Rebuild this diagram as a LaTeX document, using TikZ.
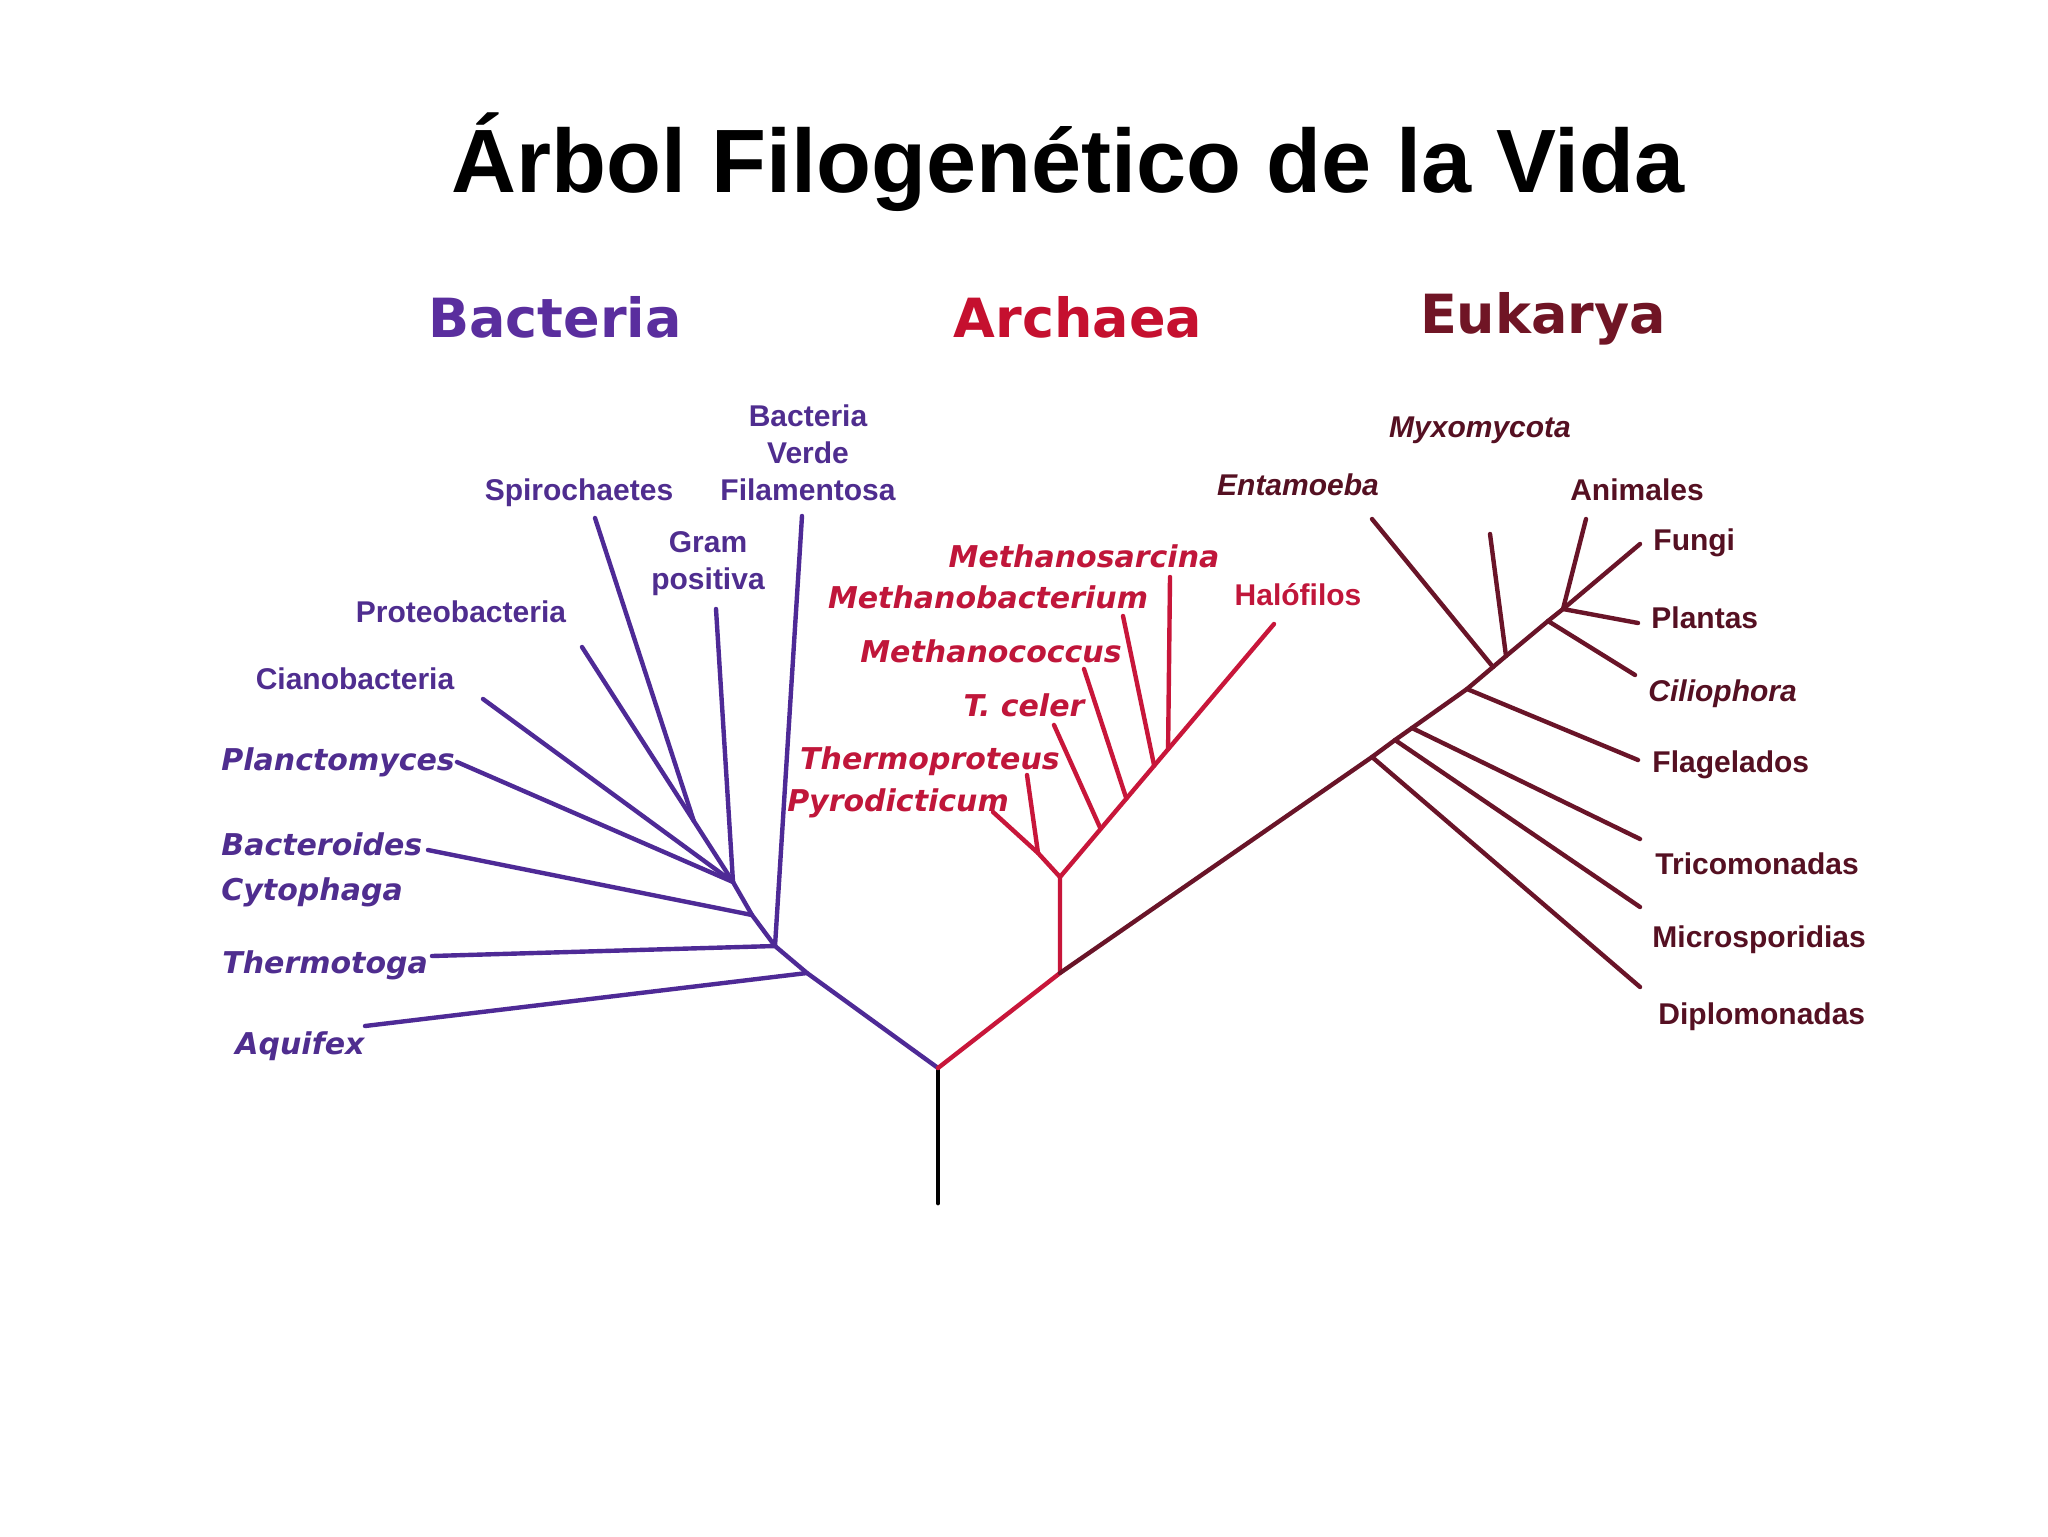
\documentclass[tikz,border=0pt]{standalone}
\usepackage{fontspec}
\newfontfamily\lsans{Liberation Sans}
\newfontfamily\dvsans{DejaVu Sans}[BoldFont={DejaVu Sans Bold},ItalicFont={DejaVu Sans Oblique},BoldItalicFont={DejaVu Sans Bold Oblique}]
\usetikzlibrary{calc}
\definecolor{bactline}{HTML}{4E2A96}
\definecolor{bacttext}{HTML}{4F2D8F}
\definecolor{bacthead}{HTML}{5A2E9E}
\definecolor{archline}{HTML}{C8163A}
\definecolor{archtext}{HTML}{C0163A}
\definecolor{archhead}{HTML}{C5102F}
\definecolor{eukline}{HTML}{691428}
\definecolor{euktext}{HTML}{551022}
\definecolor{eukhead}{HTML}{701525}
\tikzset{
  lineb/.style={draw=bactline, line width=2.2pt, line cap=round, line join=round},
  linea/.style={draw=archline, line width=2.2pt, line cap=round, line join=round},
  linee/.style={draw=eukline, line width=2.2pt, line cap=round, line join=round},
  liner/.style={draw=black, line width=2.4pt, line cap=round, line join=round},
  labr/.style={inner sep=0pt, yshift=-2.8pt, font=\lsans\bfseries\fontsize{15pt}{18.5pt}\selectfont},
  labo/.style={inner sep=0pt, yshift=-2.8pt, font=\dvsans\bfseries\itshape\fontsize{15pt}{18.5pt}\selectfont},
  labi/.style={inner sep=0pt, yshift=-2.8pt, font=\lsans\bfseries\itshape\fontsize{15pt}{18.5pt}\selectfont},
  headlab/.style={inner sep=0pt, anchor=base, font=\dvsans\bfseries\fontsize{27pt}{32pt}\selectfont},
}
\begin{document}
\begin{tikzpicture}[x=0.5pt, y=-0.5pt]
\useasboundingbox (0,0) rectangle (2048,1536);
\fill[white] (0,0) rectangle (2048,1536);

% title and domain headers
\node[inner sep=0pt, anchor=base, font=\lsans\bfseries\fontsize{45pt}{50pt}\selectfont] (title) at (1068,192) {Árbol Filogenético de la Vida};
\node[headlab, text=bacthead] (hbac) at (555,337) {Bacteria};
\node[headlab, text=archhead] (harc) at (1078,337) {Archaea};
\node[headlab, text=eukhead] (heuk) at (1543,333) {Eukarya};

% ---------- coordinates ----------
\coordinate (rb) at (938,1203);
\coordinate (r) at (938,1068);
% bacteria
\coordinate (bA) at (807,973);
\coordinate (bT) at (775,946);
\coordinate (bB) at (752,915);
\coordinate (bF) at (733,882);
\coordinate (lAqu) at (365,1026);
\coordinate (lThe) at (432,956);
\coordinate (lFil) at (802,516);
\coordinate (lBac) at (428,850);
\coordinate (lGra) at (716,609);
\coordinate (lPla) at (457,762);
\coordinate (lCia) at (483,699);
\coordinate (lPro) at (582,647);
\coordinate (lSpi) at (595,518);
\coordinate (sJ) at ($(lPro)!0.74!(bF)$);
% archaea
\coordinate (aJ) at (1060,973);
\coordinate (aN) at (1060,877);
\coordinate (aP) at (1038,853);
\coordinate (lPyr) at (993,812);
\coordinate (lTpr) at (1027,775);
\coordinate (lHal) at (1274,624);
\coordinate (jTce) at ($(aN)!0.19!(lHal)$);
\coordinate (jMco) at ($(aN)!0.31!(lHal)$);
\coordinate (jMba) at ($(aN)!0.44!(lHal)$);
\coordinate (jMsa) at ($(aN)!0.505!(lHal)$);
\coordinate (lTce) at (1054,725);
\coordinate (lMco) at (1084,669);
\coordinate (lMba) at (1123,616);
\coordinate (lMsa) at (1170,577);
% eukarya
\coordinate (e1) at (1372,757);
\coordinate (e2) at (1395,740);
\coordinate (e3) at (1412,728);
\coordinate (e4) at (1467,689);
\coordinate (e5) at (1493,667);
\coordinate (e6) at (1506,656);
\coordinate (e7) at (1548,621);
\coordinate (eC) at (1563,609);
\coordinate (lDip) at (1640,987);
\coordinate (lMic) at (1640,907);
\coordinate (lTri) at (1640,839);
\coordinate (lFla) at (1638,760);
\coordinate (lEnt) at (1372,519);
\coordinate (lMyx) at (1490,534);
\coordinate (lCil) at (1635,675);
\coordinate (lAni) at (1586,519);
\coordinate (lFun) at (1640,544);
\coordinate (lPln) at (1638,623);

% ---------- branches ----------
\draw[liner] (rb) -- (r);
% bacteria
\draw[lineb] (r) -- (bA) -- (bT) -- (bB) -- (bF);
\draw[lineb] (bA) -- (lAqu);
\draw[lineb] (bT) -- (lThe);
\draw[lineb] (bT) -- (lFil);
\draw[lineb] (bB) -- (lBac);
\draw[lineb] (bF) -- (lGra);
\draw[lineb] (bF) -- (lPla);
\draw[lineb] (bF) -- (lCia);
\draw[lineb] (bF) -- (lPro);
\draw[lineb] (sJ) -- (lSpi);
% archaea
\draw[linea] (r) -- (aJ) -- (aN);
\draw[linea] (aN) -- (aP) -- (lPyr);
\draw[linea] (aP) -- (lTpr);
\draw[linea] (aN) -- (lHal);
\draw[linea] (jTce) -- (lTce);
\draw[linea] (jMco) -- (lMco);
\draw[linea] (jMba) -- (lMba);
\draw[linea] (jMsa) -- (lMsa);
% eukarya
\draw[linee] (aJ) -- (e1) -- (e2) -- (e3) -- (e4) -- (e5) -- (e6) -- (e7) -- (eC);
\draw[linee] (e1) -- (lDip);
\draw[linee] (e2) -- (lMic);
\draw[linee] (e3) -- (lTri);
\draw[linee] (e4) -- (lFla);
\draw[linee] (e5) -- (lEnt);
\draw[linee] (e6) -- (lMyx);
\draw[linee] (e7) -- (lCil);
\draw[linee] (eC) -- (lAni);
\draw[linee] (eC) -- (lFun);
\draw[linee] (eC) -- (lPln);

% ---------- labels ----------
\begin{scope}[text=bacttext]
\node[labr, anchor=mid] (tSpi) at (579,491) {Spirochaetes};
\node[labr, anchor=center, align=center, yshift=1.3pt] (tFil) at (808,450) {Bacteria\\Verde\\Filamentosa};
\node[labr, anchor=center, align=center, yshift=1.3pt] (tGra) at (708,561) {Gram\\positiva};
\node[labr, anchor=mid] (tPro) at (461,613) {Proteobacteria};
\node[labr, anchor=mid] (tCia) at (355,680) {Cianobacteria};
\node[labo, anchor=mid west] (tPla) at (221,761) {Planctomyces};
\node[labo, anchor=west, align=left, yshift=1.8pt, font=\dvsans\bfseries\itshape\fontsize{15pt}{22.5pt}\selectfont] (tBac) at (221,868) {Bacteroides\\Cytophaga};
\node[labo, anchor=mid west] (tThe) at (222,964) {Thermotoga};
\node[labo, anchor=mid west] (tAqu) at (235,1045) {Aquifex};
\end{scope}
\begin{scope}[text=archtext]
\node[labo, anchor=mid] (tMsa) at (1084,558) {Methanosarcina};
\node[labo, anchor=mid] (tMba) at (988,599) {Methanobacterium};
\node[labo, anchor=mid] (tMco) at (991,653) {Methanococcus};
\node[labo, anchor=mid] (tTce) at (1024,707) {T. celer};
\node[labo, anchor=mid] (tTpr) at (930,760) {Thermoproteus};
\node[labo, anchor=mid] (tPyr) at (898,802) {Pyrodicticum};
\node[labr, anchor=mid] (tHal) at (1298,596) {Halófilos};
\end{scope}
\begin{scope}[text=euktext]
\node[labi, anchor=mid] (tMyx) at (1480,428) {Myxomycota};
\node[labi, anchor=mid] (tEnt) at (1298,486) {Entamoeba};
\node[labr, anchor=mid] (tAni) at (1637,491) {Animales};
\node[labr, anchor=mid west] (tFun) at (1653,541) {Fungi};
\node[labr, anchor=mid west] (tPln) at (1651,619) {Plantas};
\node[labi, anchor=mid west] (tCil) at (1648,692) {Ciliophora};
\node[labr, anchor=mid west] (tFla) at (1652,763) {Flagelados};
\node[labr, anchor=mid west] (tTri) at (1655,865) {Tricomonadas};
\node[labr, anchor=mid west] (tMic) at (1652,938) {Microsporidias};
\node[labr, anchor=mid west] (tDip) at (1658,1015) {Diplomonadas};
\end{scope}
\end{tikzpicture}
\end{document}
